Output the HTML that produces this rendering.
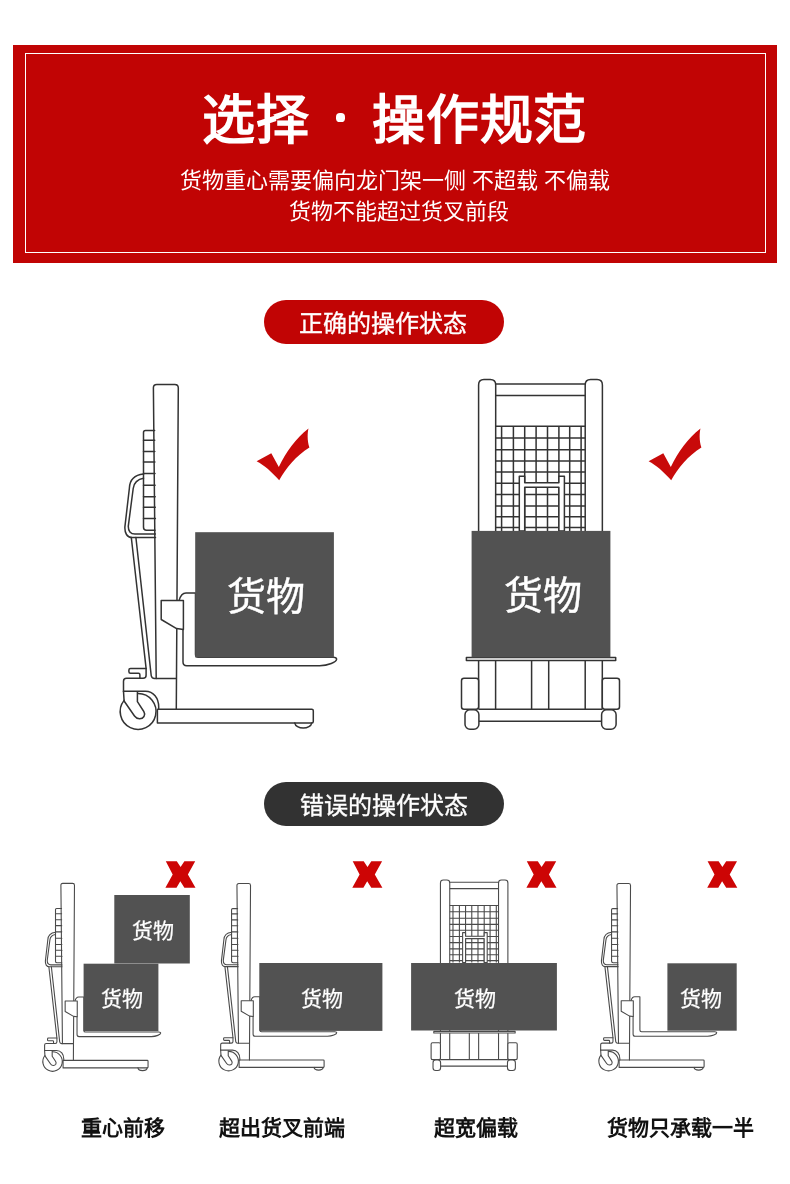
<!DOCTYPE html>
<html lang="zh-CN"><head><meta charset="utf-8">
<style>
html,body{margin:0;padding:0;background:#fff}
body{width:790px;height:1184px;position:relative;overflow:hidden;font-family:"Liberation Sans",sans-serif}
.a{position:absolute;white-space:nowrap;line-height:1;will-change:transform}
svg{position:absolute;left:0;top:0}
</style></head><body>
<div class="a" style="left:13px;top:45px;width:764px;height:218px;background:#c10404"></div>
<div class="a" style="left:25px;top:53px;width:739px;height:198px;border:1px solid #fff"></div>
<div class="a" id="t1" style="left:202px;top:93.8px;font-size:53px;letter-spacing:0.8px;font-weight:700;color:#fff">选择</div>
<div class="a" id="tdot" style="left:336.2px;top:113.3px;width:8.6px;height:8.6px;border-radius:45%;background:#fff"></div>
<div class="a" id="t2" style="left:372.2px;top:93.8px;font-size:53px;letter-spacing:0.8px;font-weight:700;color:#fff">操作规范</div>
<div class="a" id="s1" style="left:179.5px;top:169.8px;font-size:22px;color:#fff">货物重心需要偏向龙门架一侧 不超载 不偏载</div>
<div class="a" id="s2" style="left:288.8px;top:201.2px;font-size:22px;color:#fff">货物不能超过货叉前段</div>

<div class="a" style="left:264px;top:300px;width:240px;height:44px;border-radius:22px;background:#c10404"></div>
<div class="a" id="p1" style="left:299px;top:312px;font-size:24px;color:#fff;-webkit-text-stroke:0.35px #fff">正确的操作状态</div>
<div class="a" style="left:264px;top:782px;width:240px;height:44px;border-radius:22px;background:#323232"></div>
<div class="a" id="p2" style="left:299.5px;top:793.5px;font-size:24px;color:#fff;-webkit-text-stroke:0.35px #fff">错误的操作状态</div>

<svg width="790" height="1184" viewBox="0 0 790 1184">
<defs>
<g id="side" fill="none" stroke-linejoin="round" stroke-linecap="round">
  <!-- mast -->
  <path d="M156.2,678.5 L153.4,388 Q153.3,384.5 156.8,384.5 L174.8,384.5 Q178.3,384.5 178.3,388 L176.3,709.3"/>
  <!-- chain block -->
  <path d="M154.6,430.6 L145.5,430.6 Q143.5,430.6 143.5,432.6 L143.5,527.3 Q143.5,530.3 146.5,530.3 L155,530.3"/>
  <path d="M143.5,440.3H154.7M143.5,451.4H154.8M143.5,462.1H154.9M143.5,473.5H155M143.5,485.2H155.1M143.5,496.8H155.2M143.5,507.3H155.3M143.5,518.4H155.4"/>
  <!-- handle -->
  <path d="M143.5,474.1 C135,475 129.8,480 129.4,488 L124.9,526.9 C124.6,533 127,537.5 132,537.5 L155.5,537.5"/>
  <path d="M143.5,478.2 C138,479 133.5,483 133.2,488.5 L128.3,526.1 C128.2,531 130.5,534.1 135,534.1 L155.4,534.1"/>
  <!-- shaft -->
  <path d="M131.3,537.5 L146.1,668.4 L146.1,675.3 Q146.1,678.3 143.1,678.3 L126.5,678.3 Q123.5,678.3 123.5,681.3 L123.5,691.2"/>
  <path d="M146.1,668.4 L130.5,668.4 Q128.9,668.4 128.9,670 L128.9,671.8 Q128.9,673.3 130.5,673.3 L138.5,673.3 Q139.9,673.3 139.9,674.8 L139.9,678.3"/>
  <path d="M135.9,537.5 L151.2,675.5 Q151.6,678.5 154.6,678.5 L176.3,678.5"/>
  <!-- caster -->
  <path d="M123.5,691.2 L145.4,691.2 C153.5,691.2 158.7,698 158.7,707 L158.7,709.3"/>
  <path d="M123.5,691.2 L124.1,701 L134.5,716 C137,719.5 142,719.5 144,716.5 C145,714.5 144.8,713 143.8,711.5 L137.4,701.7 L137.4,692.3"/>
  <path d="M138.1,693.6 A17.9,17.9 0 1 1 124.1,700.35"/>
  <!-- base -->
  <path d="M158.7,709.3 L311.8,709.3 Q313.3,709.3 313.3,710.8 L313.3,721.6 Q313.3,723.1 311.8,723.1 L157.4,723.1 L157.4,709.3"/>
  <path d="M294.8,723.1 A8.5,5.6 0 0 0 311.7,723.1"/>
  <!-- fork -->
  <path fill="#fff" d="M183,629.4 L183,662 Q183,665.7 186.7,665.7 L319.7,665.7 C328,665.5 336.6,662 336.6,659.3 C336.6,657.8 335,657.3 333,657.3 L198.5,657.3 Q195.5,657.3 195.5,654.3 L195.5,592.9 L186,592.9 Q181,592.9 179.2,600.4"/>
  <!-- bracket -->
  <path fill="#fff" d="M161.2,600.4 L183.4,600.4 L183.4,629.4 L176.6,628.6 L161.2,619.5 Z"/>
</g>
<g id="front" fill="none" stroke-linejoin="round">
  <path d="M478.6,709.2 L478.6,385 Q478.6,379.6 484,379.6 L490.3,379.6 Q495.7,379.6 495.7,385 L495.6,709.2"/>
  <path d="M585.2,709.2 L585.2,385 Q585.2,379.6 590.6,379.6 L597,379.6 Q602.4,379.6 602.4,385 L602.3,709.2"/>
  <path d="M495.7,383.9H585.2M495.7,395.4H585.2M495.7,426.3H585.2"/>
  <path d="M501.6,426.3V531M513.4,426.3V531M524.7,426.3V531M536.1,426.3V531M547.5,426.3V531M558.9,426.3V531M569.7,426.3V531M581.1,426.3V531"/>
  <path d="M495.7,438H585.2M495.7,449.7H585.2M495.7,461.1H585.2M495.7,471.9H585.2M495.7,483.2H585.2M495.7,494.5H585.2M495.7,506H585.2M495.7,516.7H585.2M495.7,527.6H585.2"/>
  <path fill="#fff" d="M519.3,531 L519.3,476.2 L524.7,476.2 L524.7,482.8 L558.9,482.8 L558.9,476.2 L564.4,476.2 L564.4,531 L558.9,531 L558.9,487.2 L524.7,487.2 L524.7,531 Z"/>
  <rect x="466.4" y="657.4" width="149.3" height="3.1" fill="#fff"/>
  <path d="M531.6,660.5V709.2M548.7,660.5V709.2M478.6,709.2H602.3M478.9,721.2H601.6"/>
  <rect x="461.5" y="678.3" width="17.1" height="30.9" rx="2.5" fill="#fff"/>
  <rect x="602.3" y="678.3" width="17.2" height="30.9" rx="2.5" fill="#fff"/>
  <rect x="465" y="709.8" width="13.9" height="19.4" rx="5" fill="#fff"/>
  <rect x="601.6" y="709.8" width="14.5" height="19.4" rx="5" fill="#fff"/>
</g>
<path id="check" d="M256.6,461.2 L271.3,453.2 L278.8,467 C286,452 296,438 308.5,428.4 C307.5,432 307,440 309.4,447.5 C296,456 286,468 279.2,480.3 C272,472 264,465 256.6,461.2 Z"/>
<path id="xm" d="M165.8,861.3 L176.8,861.3 L180.6,867.1 L184.4,861.3 L195.2,861.3 L187.9,874.4 L195.5,887.7 L184.4,887.7 L180.3,881.3 L176.5,887.7 L165.4,887.7 L172.7,874.4 Z"/>
</defs>

<!-- big side -->
<use href="#side" stroke="#333" stroke-width="1.5"/>
<rect x="195.2" y="532.2" width="138.7" height="125.3" fill="#525252"/>
<use href="#check" fill="#c80a0a"/>
<!-- big front -->
<use href="#front" stroke="#333" stroke-width="1.5"/>
<rect x="471.6" y="530.9" width="138.8" height="126.5" fill="#525252"/>
<use href="#check" fill="#c80a0a" transform="translate(392,0)"/>

<!-- small 1 -->
<g transform="translate(-22.7,673.8) scale(0.545)"><use href="#side" stroke="#4a4a4a" stroke-width="2"/></g>
<rect x="114.3" y="895" width="75.5" height="68.5" fill="#525252"/>
<rect x="83.6" y="963.7" width="74.8" height="67.4" fill="#525252"/>
<use href="#xm" fill="#cd0505"/>
<!-- small 2 -->
<g transform="translate(153.35,674.77) scale(0.545,0.543)"><use href="#side" stroke="#4a4a4a" stroke-width="2"/></g>
<rect x="259.3" y="963" width="123.1" height="67.9" fill="#525252"/>
<use href="#xm" fill="#cd0505" transform="translate(186.9,0)"/>
<!-- small 3 -->
<g transform="translate(179.6,673.1) scale(0.545)"><use href="#front" stroke="#4a4a4a" stroke-width="2"/></g>
<rect x="411.1" y="963" width="145.8" height="67.5" fill="#525252"/>
<use href="#xm" fill="#cd0505" transform="translate(361,0)"/>
<!-- small 4 -->
<g transform="translate(533.35,674.77) scale(0.545,0.543)"><use href="#side" stroke="#4a4a4a" stroke-width="2"/></g>
<rect x="667.4" y="963.3" width="69.3" height="67.4" fill="#525252"/>
<use href="#xm" fill="#cd0505" transform="translate(541.8,0)"/>
</svg>

<div class="a" style="left:226.5px;top:577px;font-size:39px;color:#fff;-webkit-text-stroke:0.4px #fff">货物</div>
<div class="a" style="left:503.5px;top:576.2px;font-size:39px;color:#fff;-webkit-text-stroke:0.4px #fff">货物</div>
<div class="a" style="left:132.3px;top:919.8px;font-size:21px;color:#fff;-webkit-text-stroke:0.25px #fff">货物</div>
<div class="a" style="left:100.5px;top:988.3px;font-size:21px;color:#fff;-webkit-text-stroke:0.25px #fff">货物</div>
<div class="a" style="left:300.5px;top:987.5px;font-size:21px;color:#fff;-webkit-text-stroke:0.25px #fff">货物</div>
<div class="a" style="left:454.4px;top:987.5px;font-size:21px;color:#fff;-webkit-text-stroke:0.25px #fff">货物</div>
<div class="a" style="left:680.4px;top:987.5px;font-size:21px;color:#fff;-webkit-text-stroke:0.25px #fff">货物</div>

<div class="a" id="l1" style="left:81px;top:1117px;font-size:21px;font-weight:700;color:#111">重心前移</div>
<div class="a" id="l2" style="left:219px;top:1117px;font-size:21px;font-weight:700;color:#111">超出货叉前端</div>
<div class="a" id="l3" style="left:433.5px;top:1117px;font-size:21px;font-weight:700;color:#111">超宽偏载</div>
<div class="a" id="l4" style="left:607px;top:1117px;font-size:21px;font-weight:700;color:#111">货物只承载一半</div>
</body></html>
